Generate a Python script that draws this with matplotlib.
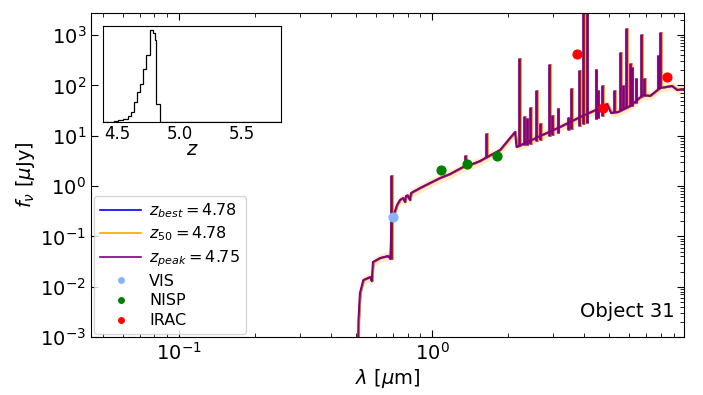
import numpy as np
import matplotlib
matplotlib.use('Agg')
from matplotlib import pyplot as plt

# best-fit template (wavelength in um, flux in uJy)
cont_lam = [0.500, 0.508, 0.512, 0.519, 0.535, 0.569, 0.578, 0.584, 0.623, 0.670, 0.682,
            0.684, 0.6913, 0.701, 0.727, 0.747, 0.768, 0.782, 0.789, 0.80, 0.818, 0.826,
            0.897, 0.982, 1.076, 1.178, 1.326, 1.413, 1.548, 1.60, 1.857, 2.128, 2.158,
            2.673, 3.205, 3.846, 4.613, 4.917, 5.10, 5.435, 6.06, 6.82, 7.27, 7.96,
            8.88, 9.30, 10.0]
cont_flux = [1e-5, 1e-4, 0.00217, 0.00746, 0.0135, 0.0155, 0.0129, 0.0308, 0.037, 0.0406, 0.037,
             0.0355, 0.168, 0.242, 0.419, 0.527, 0.577, 0.481, 0.633, 0.65, 0.527, 0.726,
             0.912, 1.147, 1.443, 1.731, 2.386, 2.62, 3.14, 3.45, 5.19, 11.85, 5.96,
             9.86, 14.9, 23.5, 35.6, 42.7, 28.3, 29.6, 38.9, 64.4, 61.6, 88.8,
             97.3, 81.0, 84.8]

# emission lines: wavelength, continuum level at the line, peak flux
line_lam = [0.6883, 1.35, 1.635, 2.207, 2.310, 2.368, 2.440, 2.577, 2.673, 2.909, 2.989,
            3.140, 3.458, 3.543, 3.811, 3.963, 4.088, 4.436, 4.518, 4.711, 5.255, 5.534,
            5.674, 5.846, 6.062, 6.157, 6.385, 6.699, 6.904, 7.80, 7.96]
line_base = [0.0355, 2.44, 3.77, 6.24, 6.53, 6.68, 6.84, 7.85, 8.21, 9.86, 10.3,
             11.3, 13.0, 13.6, 15.6, 17.1, 17.9, 21.5, 22.5, 24.6, 29.6, 32.4,
             34.0, 35.6, 38.9, 39.8, 44.7, 58.8, 61.6, 84.8, 88.8]
line_peak = [1.65, 4.13, 11.3, 355.6, 24.6, 22.5, 37.7, 81.0, 18.1, 266.0, 25.8,
             35.1, 23.2, 87.5, 202.0, 5000.0, 5000.0, 209.0, 81.0, 102.0, 81.0, 455.0,
             102.0, 1365.0, 275.0, 235.0, 140.0, 1052.0, 140.0, 402.0, 1169.0]

z_best = 4.78
z_50 = 4.78
z_peak = 4.75

# photometry
vis_lam = [0.701]
vis_flux = [0.242]
nisp_lam = [1.08, 1.38, 1.81]
nisp_flux = [2.08, 2.74, 4.0]
irac_lam = [3.73, 4.75, 8.5]
irac_flux = [415.0, 35.0, 149.0]

# redshift posterior histogram
hist_edges = [4.38, 4.47, 4.50, 4.54, 4.58, 4.61, 4.63, 4.657, 4.681, 4.703, 4.724,
              4.757, 4.78, 4.797, 4.811, 4.838, 5.60, 5.62, 5.82]
hist_counts = [0, 2, 5, 10, 17, 30, 60, 90, 115, 160, 200, 275, 268, 245, 55, 0, 1, 0]

fig = plt.figure(figsize=(7.03, 3.95), dpi=100)
ax = fig.add_axes([0.1294, 0.1468, 0.8436, 0.8203])

cont_lam = np.array(cont_lam)
cont_flux = np.array(cont_flux)
line_lam = np.array(line_lam)

models = [(z_best, 'blue', 1.5), (z_50, 'orange', 1.7), (z_peak, 'purple', 1.5)]
for z, col, lw in models:
    shift = (1 + z) / (1 + z_peak)
    if col == 'orange':
        ax.fill_between(cont_lam * shift, cont_flux * 0.82, cont_flux * 1.22,
                        color='orange', alpha=0.22, lw=0)
    ax.plot(cont_lam * shift, cont_flux, color=col, lw=lw)
    ax.vlines(line_lam * shift, line_base, line_peak, color=col, lw=lw * 1.3)

lbl = [r'$z_{best} = %.2f$' % z_best, r'$z_{50} = %.2f$' % z_50, r'$z_{peak} = %.2f$' % z_peak]
hl = [plt.Line2D([], [], color=c, lw=1.2) for c in ['blue', 'orange', 'purple']]

ax.scatter(vis_lam, vis_flux, s=40, color='#89b4f7', zorder=5)
ax.scatter(nisp_lam, nisp_flux, s=40, color='green', zorder=5)
ax.scatter(irac_lam, irac_flux, s=40, color='red', zorder=5)
hp = [plt.Line2D([], [], ls='', marker='o', ms=4, color=c) for c in ['#89b4f7', 'green', 'red']]

ax.set_xscale('log')
ax.set_yscale('log')
ax.set_xlim(0.0449, 9.9)
ax.set_ylim(1e-3, 2750)
ax.set_xlabel(r'$\lambda$ [$\mu$m]', fontsize=14, labelpad=2)
ax.set_ylabel(r'$f_{\nu}$ [$\mu$Jy]', fontsize=14, labelpad=2)
ax.tick_params(which='both', direction='in', top=True, right=True, labelsize=14)
ax.tick_params(which='major', length=5)
ax.tick_params(which='minor', length=3)
ax.tick_params(axis='y', which='minor', left=False)

ax.legend(hl + hp, lbl + ['VIS', 'NISP', 'IRAC'], loc='lower left', fontsize=11.5,
          handlelength=2.6, handletextpad=0.5, labelspacing=0.3, borderaxespad=0.2,
          borderpad=0.35)
ax.text(0.985, 0.05, 'Object 31', transform=ax.transAxes, ha='right', va='bottom', fontsize=14)

# inset with P(z)
axin = fig.add_axes([0.1465, 0.691, 0.2538, 0.244])
axin.stairs(hist_counts, hist_edges, color='black', lw=0.9)
axin.set_xlim(4.38, 5.82)
axin.set_ylim(0, 289)
axin.set_yticks([])
axin.set_xticks([4.5, 5.0, 5.5])
axin.tick_params(labelsize=12, length=0, pad=2)
axin.set_xlabel(r'$z$', fontsize=14, labelpad=-2)

fig.savefig('out.png', dpi=100)
